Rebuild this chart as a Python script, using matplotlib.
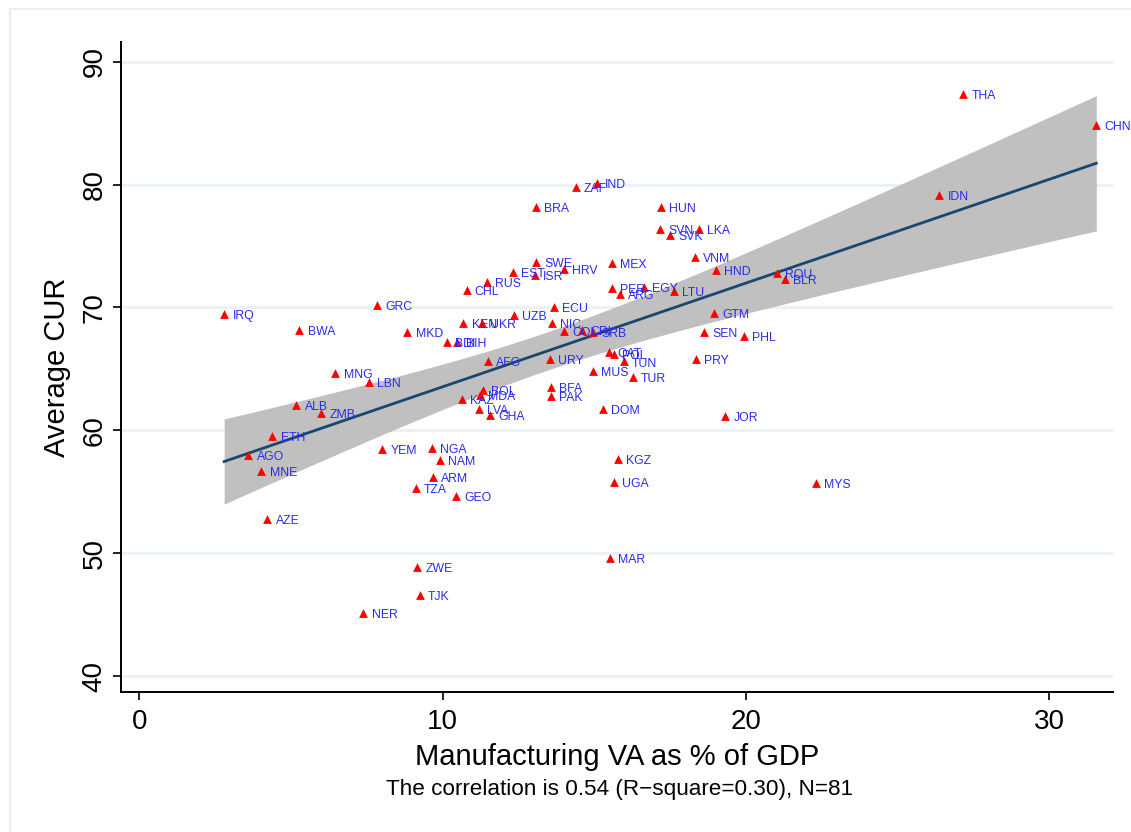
import numpy as np
import matplotlib
matplotlib.use("Agg")
import matplotlib.pyplot as plt
from matplotlib.patches import Rectangle

# Country codes, manufacturing value added (% of GDP) and average capacity utilisation
countries = ["THA", "CHN", "IDN", "IND", "ZAF", "BRA", "HUN", "SVN", "LKA", "SVK",
             "VNM", "HND", "ROU", "BLR", "SWE", "EST", "ISR", "HRV", "MEX", "RUS",
             "CHL", "PER", "ARG", "EGY", "LTU", "GRC", "IRQ", "BWA", "MKD", "ECU",
             "UZB", "KEN", "UKR", "NIC", "COL", "CRI", "SRB", "GTM", "SEN", "PHL",
             "BDI", "BIH", "AFG", "URY", "QAT", "POL", "TUN", "PRY", "MUS", "TUR",
             "MNG", "LBN", "BOL", "BFA", "PAK", "KAZ", "MDA", "LVA", "GHA", "ALB",
             "ZMB", "DOM", "JOR", "ETH", "AGO", "MNE", "YEM", "NGA", "NAM", "ARM",
             "TZA", "GEO", "KGZ", "UGA", "MYS", "AZE", "ZWE", "TJK", "NER", "MAR"]

manuf_va = [27.16, 31.55, 26.37, 15.08, 14.39, 13.07, 17.19, 17.16, 18.45, 17.49,
            18.32, 19.00, 21.02, 21.29, 13.07, 12.31, 13.04, 13.99, 15.58, 11.45,
            10.79, 15.58, 15.84, 16.63, 17.62, 7.85, 2.80, 5.28, 8.84, 13.66,
            12.34, 10.69, 11.29, 13.60, 13.99, 14.59, 14.95, 18.94, 18.61, 19.93,
            10.13, 10.49, 11.49, 13.53, 15.48, 15.64, 15.97, 18.35, 14.95, 16.27,
            6.47, 7.56, 11.32, 13.56, 13.56, 10.63, 11.22, 11.19, 11.58, 5.18,
            6.00, 15.28, 19.31, 4.39, 3.60, 4.03, 8.02, 9.64, 9.90, 9.67,
            9.11, 10.43, 15.78, 15.64, 22.31, 4.22, 9.17, 9.24, 7.39, 15.51]

avg_cur = [87.4, 84.87, 79.17, 80.15, 79.8, 78.2, 78.2, 76.4, 76.4, 75.9,
           74.1, 73.06, 72.8, 72.3, 73.7, 72.9, 72.65, 73.1, 73.6, 72.1,
           71.4, 71.6, 71.1, 71.7, 71.35, 70.2, 69.5, 68.2, 68.0, 70.05,
           69.4, 68.75, 68.7, 68.75, 68.1, 68.2, 68.0, 69.56, 68.0, 67.7,
           67.2, 67.2, 65.65, 65.8, 66.4, 66.2, 65.6, 65.8, 64.8, 64.35,
           64.7, 63.9, 63.3, 63.5, 62.8, 62.55, 62.9, 61.7, 61.25, 62.07,
           61.4, 61.7, 61.17, 59.55, 58.0, 56.7, 58.5, 58.57, 57.6, 56.2,
           55.3, 54.65, 57.67, 55.8, 55.7, 52.8, 48.9, 46.6, 45.1, 49.6]

x_ticks = [0, 10, 20, 30]
y_ticks = [40, 50, 60, 70, 80, 90]
x_title = "Manufacturing VA as % of GDP"
y_title = "Average CUR"
note = "The correlation is 0.54 (R\u2212square=0.30), N=81"

plt.rcParams["font.family"] = ["Liberation Sans", "DejaVu Sans"]

x = np.asarray(manuf_va)
y = np.asarray(avg_cur)

# Linear fit with 95% confidence band for the mean prediction
n = len(x)
b1, b0 = np.polyfit(x, y, 1)
resid = y - (b0 + b1 * x)
s = np.sqrt(np.sum(resid ** 2) / (n - 2))
xg = np.linspace(x.min(), x.max(), 200)
yg = b0 + b1 * xg
se = s * np.sqrt(1.0 / n + (xg - x.mean()) ** 2 / np.sum((x - x.mean()) ** 2))
tcrit = 1.991
lo, hi = yg - tcrit * se, yg + tcrit * se

fig = plt.figure(figsize=(11.31, 8.32), dpi=100)
fig.patch.set_facecolor("white")
fig.patches.append(Rectangle((10 / 1131, -0.1), 2.0, 1.1 - 9 / 832,
                             transform=fig.transFigure, fill=False,
                             edgecolor="#e9eff1", linewidth=1.5))

ax = fig.add_axes([121 / 1131, 1 - 692 / 832, (1113 - 121) / 1131, (692 - 42) / 832])
ax.set_xlim(-0.6, 32.1)
ax.set_ylim(38.7, 91.6)

for yt in y_ticks:
    ax.axhline(yt, color="#eaf2f3", linewidth=2, zorder=0)

ax.fill_between(xg, lo, hi, color="#c0c0c0", linewidth=0, zorder=1)
ax.plot(xg, yg, color="#1a476f", linewidth=2, zorder=2)

ax.scatter(x, y, marker="^", s=40, color="#ff0000", linewidths=0, zorder=3)
for cx, cy, lab in zip(x, y, countries):
    ax.annotate(lab, (cx, cy), xytext=(6, -1.5), textcoords="offset points",
                ha="left", va="center", fontsize=8.8, color="#2a2af0", zorder=4)

ax.set_xticks(x_ticks)
ax.set_yticks(y_ticks)
ax.tick_params(axis="both", direction="out", length=6, width=1.2, labelsize=20, color="black")
ax.tick_params(axis="x", pad=6)
for lbl in ax.get_yticklabels():
    lbl.set_rotation(90)
    lbl.set_va("center")
ax.spines["top"].set_visible(False)
ax.spines["right"].set_visible(False)
ax.spines["left"].set_linewidth(1.4)
ax.spines["bottom"].set_linewidth(1.4)

ax.set_xlabel(x_title, fontsize=21, labelpad=6)
ax.set_ylabel(y_title, fontsize=21, labelpad=8)
fig.text(0.5 * (121 + 1113) / 1131 + 0.002, 1 - 790 / 832, note, ha="center", va="center",
         fontsize=16.2)

fig.savefig("out.png", dpi=100)
